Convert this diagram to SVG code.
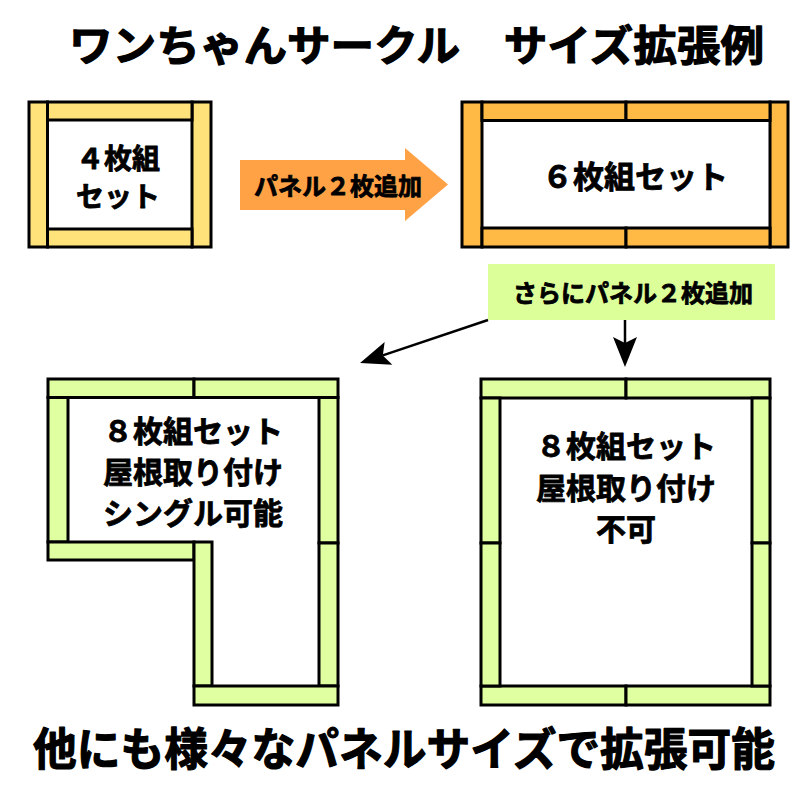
<svg xmlns="http://www.w3.org/2000/svg" width="800" height="800" viewBox="0 0 800 800">
<style>
text{font-family:"Noto Sans CJK JP","Noto Sans CJK SC",sans-serif;font-weight:bold;fill:#000;stroke:#000;stroke-width:0.8;stroke-linejoin:round}
.big{stroke-width:1.2}
.y{fill:#FFE27A;stroke:#000;stroke-width:3}
.o{fill:#FFBA45;stroke:#000;stroke-width:3}
.g{fill:#DFFFA0;stroke:#000;stroke-width:3}
.c{text-anchor:middle}
.conn{stroke:#000;stroke-width:2.5;fill:none;marker-end:url(#ah)}
</style>
<defs>
<marker id="ah" markerUnits="userSpaceOnUse" markerWidth="32" markerHeight="26" refX="6" refY="12" orient="auto" overflow="visible">
<path d="M0,0 L30,12 L0,24 L6,12 Z" fill="#000"/>
</marker>
</defs>
<rect width="800" height="800" fill="#fff"/>
<g id="title">
<text class="big" x="69" y="61" font-size="42" textLength="695" lengthAdjust="spacingAndGlyphs">ワンちゃんサークル　サイズ拡張例</text>
</g>
<g id="set4">
<rect class="y" x="29" y="102" width="18.5" height="145"/>
<rect class="y" x="192" y="102" width="19" height="145"/>
<rect class="y" x="47.5" y="102" width="144.5" height="18"/>
<rect class="y" x="47.5" y="229" width="144.5" height="18"/>
<text class="c" font-size="28" stroke-width="1"><tspan x="118" y="169">４枚組</tspan><tspan x="118" y="207">セット</tspan></text>
</g>
<g id="arrow1">
<path d="M240,160 L405,160 L405,148 L448,184.5 L405,221 L405,210 L240,210 Z" fill="#FFA246"/>
<text class="c" x="338" y="195" font-size="24">パネル２枚追加</text>
</g>
<g id="set6">
<rect class="o" x="462" y="102" width="20" height="145"/>
<rect class="o" x="770" y="102" width="18" height="145"/>
<rect class="o" x="482" y="102" width="144" height="18.5"/>
<rect class="o" x="626" y="102" width="144" height="18.5"/>
<rect class="o" x="482" y="228" width="144" height="19"/>
<rect class="o" x="626" y="228" width="144" height="19"/>
<text class="c" x="635" y="188" font-size="31">６枚組セット</text>
</g>
<g id="label2">
<rect x="488" y="264" width="287" height="56" fill="#DDFF99"/>
<text class="c" x="633" y="302" font-size="24">さらにパネル２枚追加</text>
</g>
<g id="connectors">
<line class="conn" x1="488" y1="320" x2="382.8" y2="355.4"/>
<line class="conn" x1="625" y1="320" x2="625" y2="343"/>
</g>
<g id="set8L">
<rect class="g" x="48" y="379" width="146" height="18.5"/>
<rect class="g" x="194" y="379" width="144" height="18.5"/>
<rect class="g" x="48" y="397.5" width="20" height="144.5"/>
<rect class="g" x="319" y="397.5" width="19" height="145.5"/>
<rect class="g" x="319" y="543" width="19" height="143"/>
<rect class="g" x="48" y="542" width="146" height="18"/>
<rect class="g" x="194" y="542" width="18" height="144"/>
<rect class="g" x="194" y="686" width="144" height="19"/>
<text class="c" font-size="30"><tspan x="193" y="442">８枚組セット</tspan><tspan x="193" y="483">屋根取り付け</tspan><tspan x="193" y="524">シングル可能</tspan></text>
</g>
<g id="set8R">
<rect class="g" x="481" y="379" width="145" height="19"/>
<rect class="g" x="626" y="379" width="144" height="19"/>
<rect class="g" x="481" y="686" width="145" height="19"/>
<rect class="g" x="626" y="686" width="144" height="19"/>
<rect class="g" x="481" y="398" width="19" height="145"/>
<rect class="g" x="481" y="543" width="19" height="143"/>
<rect class="g" x="752" y="398" width="18" height="145"/>
<rect class="g" x="752" y="543" width="18" height="143"/>
<text class="c" font-size="30"><tspan x="626" y="457">８枚組セット</tspan><tspan x="626" y="499">屋根取り付け</tspan><tspan x="626" y="540">不可</tspan></text>
</g>
<g id="footer">
<text class="big" x="33" y="766" font-size="45" textLength="742" lengthAdjust="spacingAndGlyphs">他にも様々なパネルサイズで拡張可能</text>
</g>
</svg>
